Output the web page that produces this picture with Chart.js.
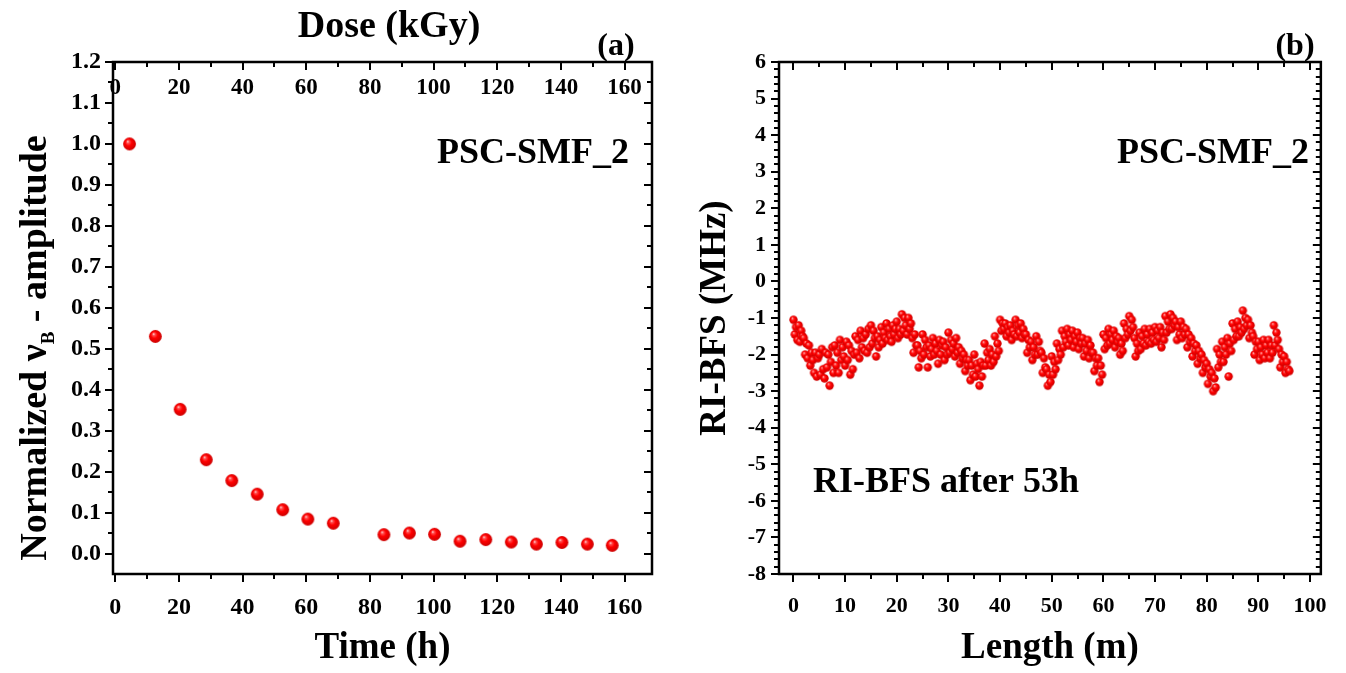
<!DOCTYPE html>
<html>
<head>
<meta charset="utf-8">
<script src="https://cdn.jsdelivr.net/npm/chart.js@4.4.1/dist/chart.umd.min.js"></script>
<style>
  html, body { margin: 0; padding: 0; background: #fff; }
  #wrap { position: relative; width: 1346px; height: 673px; }
  .box { position: absolute; top: 0; width: 673px; height: 673px; }
</style>
</head>
<body>
<div id="wrap">
  <div class="box" style="left:0"><canvas id="chartA" width="673" height="673"></canvas></div>
  <div class="box" style="left:673px"><canvas id="chartB" width="673" height="673"></canvas></div>
</div>
<script>
// (a) normalized amplitude vs time
const timeHours = [4.5, 12.6, 20.4, 28.6, 36.6, 44.6, 52.6, 60.5, 68.5, 84.4, 92.4, 100.3, 108.3, 116.4, 124.4, 132.3, 140.3, 148.3, 156.1];
const amplitude = [1.0, 0.53, 0.352, 0.229, 0.178, 0.145, 0.107, 0.084, 0.074, 0.046, 0.05, 0.047, 0.03, 0.034, 0.028, 0.023, 0.027, 0.023, 0.02];
const timeTicks = [0, 20, 40, 60, 80, 100, 120, 140, 160];
const doseTicks = [0, 20, 40, 60, 80, 100, 120, 140, 160];
const ampTicks = [0, 0.1, 0.2, 0.3, 0.4, 0.5, 0.6, 0.7, 0.8, 0.9, 1.0, 1.1, 1.2];

// (b) RI-BFS along the fibre, one value every 0.25 m
const lengthStep = 0.25;
const bfsValues = [
  -1.05,-1.45,-1.25,-1.6, -1.2,-1.65,-1.35,-1.5, -1.55,-2.0,-1.7,-2.1, -1.75,-2.3,-1.95,-2.15, -2.5,-1.95,-2.6,-2.1,
  -2.0,-2.55,-1.85,-2.4, -2.65,-1.95,-2.35,-2.0, -2.85,-2.2,-1.8,-2.5, -1.75,-2.3,-1.95,-2.5, -1.6,-2.15,-1.8,-2.05,
  -2.3,-1.65,-2.15,-1.75, -2.55,-1.9,-2.4,-2.0, -1.5,-1.95,-1.6,-2.1, -1.35,-1.8,-1.55,-1.9, -1.45,-1.95,-1.3,-1.8,
  -1.2,-1.7,-1.35,-1.55, -2.05,-1.5,-1.8,-1.6, -1.25,-1.7,-1.4,-1.55, -1.15,-1.6,-1.3,-1.5, -1.65,-1.2,-1.45,-1.3,
  -1.1,-1.55,-1.3,-1.45, -0.9,-1.35,-1.0,-1.2, -1.45,-1.0,-1.3,-1.15, -1.55,-1.95,-1.45,-1.75, -1.75,-2.35,-1.9,-2.1,
  -1.45,-2.0,-1.6,-1.8, -2.35,-1.75,-2.05,-1.85, -1.55,-2.0,-1.7,-1.9, -2.25,-1.6,-2.0,-1.75, -1.65,-2.15,-1.8,-2.0,
  -1.4,-1.95,-1.6,-1.85, -1.7,-2.05,-1.55,-1.95, -1.8,-2.25,-1.9,-2.1, -2.0,-2.45,-2.15,-2.3, -2.15,-2.7,-2.3,-2.55,
  -2.0,-2.6,-2.25,-2.4, -2.85,-2.2,-2.6,-2.3, -1.7,-2.3,-1.95,-2.15, -1.85,-2.3,-2.0,-2.2, -1.5,-2.05,-1.7,-1.9,
  -1.05,-1.35,-1.15,-1.3, -1.15,-1.5,-1.25,-1.4, -1.2,-1.6,-1.35,-1.45, -1.05,-1.5,-1.2,-1.4, -1.15,-1.55,-1.3,-1.45,
  -1.45,-1.95,-1.6,-1.8, -1.65,-2.15,-1.8,-2.0, -1.5,-2.0,-1.65,-1.9, -1.95,-2.5,-2.1,-2.35, -2.4,-2.85,-2.55,-2.75,
  -2.05,-2.55,-2.2,-2.4, -1.7,-2.15,-1.85,-2.0, -1.35,-1.8,-1.5,-1.65, -1.3,-1.75,-1.45,-1.6, -1.35,-1.8,-1.5,-1.65,
  -1.4,-1.85,-1.55,-1.7, -1.55,-2.05,-1.7,-1.9, -1.6,-2.1,-1.75,-1.95, -1.95,-2.45,-2.1,-2.3, -2.1,-2.75,-2.3,-2.55,
  -1.45,-1.85,-1.55,-1.75, -1.3,-1.7,-1.45,-1.6, -1.35,-1.8,-1.5,-1.65, -1.55,-2.0,-1.7,-1.9, -1.15,-1.55,-1.3,-1.45,
  -0.95,-1.35,-1.05,-1.25, -1.55,-2.05,-1.7,-1.9, -1.4,-1.85,-1.5,-1.7, -1.3,-1.75,-1.45,-1.65, -1.3,-1.7,-1.4,-1.6,
  -1.25,-1.65,-1.35,-1.55, -1.25,-1.8,-1.4,-1.6, -0.95,-1.4,-1.1,-1.3, -0.9,-1.3,-1.0,-1.2, -1.1,-1.6,-1.25,-1.45,
  -1.1,-1.55,-1.25,-1.45, -1.3,-1.8,-1.45,-1.65, -1.55,-2.05,-1.7,-1.9, -1.75,-2.25,-1.9,-2.1, -2.0,-2.5,-2.15,-2.35,
  -2.25,-2.8,-2.4,-2.6, -2.5,-3.0,-2.65,-2.9, -1.85,-2.35,-2.0,-2.2, -1.65,-2.2,-1.8,-2.0, -1.55,-2.6,-1.7,-1.9,
  -1.15,-1.6,-1.3,-1.5, -1.1,-1.5,-1.25,-1.4, -0.8,-1.3,-1.0,-1.2, -1.05,-1.55,-1.2,-1.4, -1.5,-2.0,-1.65,-1.85,
  -1.65,-2.15,-1.8,-2.0, -1.6,-2.1,-1.75,-1.95, -1.6,-2.1,-1.75,-1.95, -1.2,-1.75,-1.4,-1.6, -1.85,-2.35,-2.0,-2.2,
  -2.05,-2.5,-2.2,-2.4, -2.45
];
const lengthTicks = [0, 10, 20, 30, 40, 50, 60, 70, 80, 90, 100];
const bfsTicks = [-8, -7, -6, -5, -4, -3, -2, -1, 0, 1, 2, 3, 4, 5, 6];

const SERIF = "'Liberation Serif', 'Times New Roman', serif";

// shaded red ball used as point style
function ball(r) {
  const c = document.createElement('canvas');
  const size = Math.ceil(r * 2) + 2;
  c.width = c.height = size;
  const g = c.getContext('2d');
  const cx = size / 2, cy = size / 2;
  const grad = g.createRadialGradient(cx - r * 0.3, cy - r * 0.4, 0, cx, cy, r * 1.15);
  grad.addColorStop(0, '#fff0f0');
  grad.addColorStop(0.18, '#ff5050');
  grad.addColorStop(0.45, '#ff0000');
  grad.addColorStop(1, '#c00000');
  g.fillStyle = grad;
  g.beginPath();
  g.arc(cx, cy, r, 0, Math.PI * 2);
  g.fill();
  return c;
}

// box frame + major/minor tick marks on all four sides
const framePlugin = {
  id: 'frame',
  afterDatasetsDraw(chart, args, o) {
    const { ctx, chartArea: a, scales } = chart;
    const xs = scales.x, ys = scales.y;
    ctx.save();
    ctx.strokeStyle = '#000';
    ctx.lineWidth = 2;
    ctx.beginPath();
    const n = Math.round((o.x.to - o.x.from) / o.x.minor);
    for (let i = 0; i <= n; i++) {
      const px = Math.round(xs.getPixelForValue(o.x.from + i * o.x.minor));
      const len = i % o.x.every === 0 ? o.major : o.minor;
      ctx.moveTo(px, a.bottom); ctx.lineTo(px, a.bottom + len);
      ctx.moveTo(px, a.top); ctx.lineTo(px, a.top + len);
    }
    const m = Math.round((o.y.to - o.y.from) / o.y.minor);
    for (let i = 0; i <= m; i++) {
      const py = Math.round(ys.getPixelForValue(o.y.from + i * o.y.minor));
      const len = i % o.y.every === 0 ? o.major : o.minor;
      ctx.moveTo(a.left - len, py); ctx.lineTo(a.left, py);
      ctx.moveTo(a.right - len, py); ctx.lineTo(a.right, py);
    }
    ctx.stroke();
    ctx.lineWidth = 2.5;
    ctx.strokeRect(a.left, a.top, a.right - a.left, a.bottom - a.top);
    ctx.restore();
  }
};

// free text: panel letters, annotations, top dose labels, subscripted y title
const notesPlugin = {
  id: 'notes',
  afterDraw(chart, args, o) {
    const { ctx } = chart;
    ctx.save();
    ctx.fillStyle = '#000';
    ctx.textAlign = 'center';
    ctx.textBaseline = 'alphabetic';
    (o.items || []).forEach(t => {
      ctx.font = `bold ${t.size}px ${SERIF}`;
      ctx.fillText(t.text, t.x, t.y);
    });
    if (o.topTicks) {
      const s = chart.scales.x2;
      ctx.font = `bold ${o.topTicks.size}px ${SERIF}`;
      ctx.textBaseline = 'middle';
      o.topTicks.values.forEach(v => ctx.fillText(String(v), s.getPixelForValue(v), o.topTicks.y));
    }
    if (o.yTitle) {
      const t = o.yTitle;
      ctx.translate(t.x, t.y);
      ctx.rotate(-Math.PI / 2);
      ctx.textBaseline = 'alphabetic';
      ctx.textAlign = 'left';
      const big = `bold ${t.size}px ${SERIF}`, small = `bold ${Math.round(t.size * 0.5)}px ${SERIF}`;
      ctx.font = big; const w1 = ctx.measureText(t.before).width, w3 = ctx.measureText(t.after).width;
      ctx.font = small; const w2 = ctx.measureText(t.sub).width;
      let x = -(w1 + w2 + w3) / 2;
      ctx.font = big; ctx.fillText(t.before, x, 0); x += w1;
      ctx.font = small; ctx.fillText(t.sub, x, t.size * 0.2); x += w2;
      ctx.font = big; ctx.fillText(t.after, x, 0);
    }
    ctx.restore();
  }
};

function tickFont(size) { return { family: SERIF, size: size, weight: 'bold' }; }
const titleFont = { family: SERIF, size: 37, weight: 'bold' };

new Chart(document.getElementById('chartA'), {
  type: 'scatter',
  data: {
    datasets: [{
      data: timeHours.map((t, i) => ({ x: t, y: amplitude[i] })),
      pointStyle: ball(6.4),
      pointRadius: 6.4,
      pointHoverRadius: 6.4
    }]
  },
  options: {
    responsive: false,
    animation: false,
    events: [],
    layout: { padding: { left: 0, top: 62, right: 21, bottom: 0 } },
    plugins: {
      legend: { display: false },
      tooltip: { enabled: false },
      frame: { x: { from: 0, to: 160, minor: 10, every: 2 }, y: { from: 0, to: 1.2, minor: 0.05, every: 2 }, major: 8, minor: 5 },
      notes: {
        items: [
          { text: 'Dose (kGy)', x: 389, y: 37, size: 38 },
          { text: '(a)', x: 616, y: 55, size: 32 },
          { text: 'PSC-SMF_2', x: 533, y: 163, size: 36 }
        ],
        topTicks: { values: doseTicks, y: 88, size: 23 },
        yTitle: { before: 'Normalized ν', sub: 'B', after: ' - amplitude', x: 46, y: 348, size: 38 }
      }
    },
    scales: {
      x: {
        type: 'linear', position: 'bottom', min: -0.7, max: 168.6,
        afterBuildTicks: s => { s.ticks = timeTicks.map(v => ({ value: v })); },
        afterFit: s => { s.height = 99; },
        grid: { display: false, drawTicks: false }, border: { display: false },
        ticks: { padding: 19, color: '#000', font: tickFont(24), maxRotation: 0 },
        title: { display: true, text: 'Time (h)', color: '#000', font: titleFont, padding: { top: 0, bottom: 2 } }
      },
      x2: {
        type: 'linear', position: 'top', min: -0.7, max: 168.6,
        afterFit: s => { s.height = 0; },
        grid: { display: false, drawTicks: false }, border: { display: false },
        ticks: { display: false }
      },
      y: {
        type: 'linear', min: -0.05, max: 1.2,
        afterBuildTicks: s => { s.ticks = ampTicks.map(v => ({ value: v })); },
        afterFit: s => { s.width = 113; },
        grid: { display: false, drawTicks: false }, border: { display: false },
        ticks: { padding: 12, color: '#000', font: tickFont(24), callback: v => Number(v).toFixed(1) }
      }
    }
  },
  plugins: [framePlugin, notesPlugin]
});

new Chart(document.getElementById('chartB'), {
  type: 'scatter',
  data: {
    datasets: [{
      data: bfsValues.map((v, i) => ({ x: i * lengthStep, y: v })),
      pointStyle: ball(4.2),
      pointRadius: 4.2,
      pointHoverRadius: 4.2
    }]
  },
  options: {
    responsive: false,
    animation: false,
    events: [],
    layout: { padding: { left: 0, top: 62, right: 21, bottom: 0 } },
    plugins: {
      legend: { display: false },
      tooltip: { enabled: false },
      frame: { x: { from: 0, to: 100, minor: 5, every: 2 }, y: { from: -8, to: 6, minor: 0.2, every: 5 }, major: 8, minor: 5 },
      notes: {
        items: [
          { text: '(b)', x: 622, y: 55, size: 32 },
          { text: 'PSC-SMF_2', x: 540, y: 163, size: 36 },
          { text: 'RI-BFS after 53h', x: 273, y: 492, size: 36 }
        ]
      }
    },
    scales: {
      x: {
        type: 'linear', position: 'bottom', min: -2.8, max: 102.1,
        afterBuildTicks: s => { s.ticks = lengthTicks.map(v => ({ value: v })); },
        afterFit: s => { s.height = 99; },
        grid: { display: false, drawTicks: false }, border: { display: false },
        ticks: { padding: 19, color: '#000', font: tickFont(22), maxRotation: 0 },
        title: { display: true, text: 'Length (m)', color: '#000', font: titleFont, padding: { top: 0, bottom: 2 } }
      },
      x2: {
        type: 'linear', position: 'top', min: -2.8, max: 102.1,
        afterFit: s => { s.height = 0; },
        grid: { display: false, drawTicks: false }, border: { display: false },
        ticks: { display: false }
      },
      y: {
        type: 'linear', min: -8, max: 6,
        afterBuildTicks: s => { s.ticks = bfsTicks.map(v => ({ value: v })); },
        afterFit: s => { s.width = 106; },
        grid: { display: false, drawTicks: false }, border: { display: false },
        ticks: { padding: 13, color: '#000', font: tickFont(22), callback: v => String(v) },
        title: { display: true, text: 'RI-BFS (MHz)', color: '#000', font: titleFont, padding: { top: 20, bottom: 0 } }
      }
    }
  },
  plugins: [framePlugin, notesPlugin]
});
</script>
</body>
</html>
